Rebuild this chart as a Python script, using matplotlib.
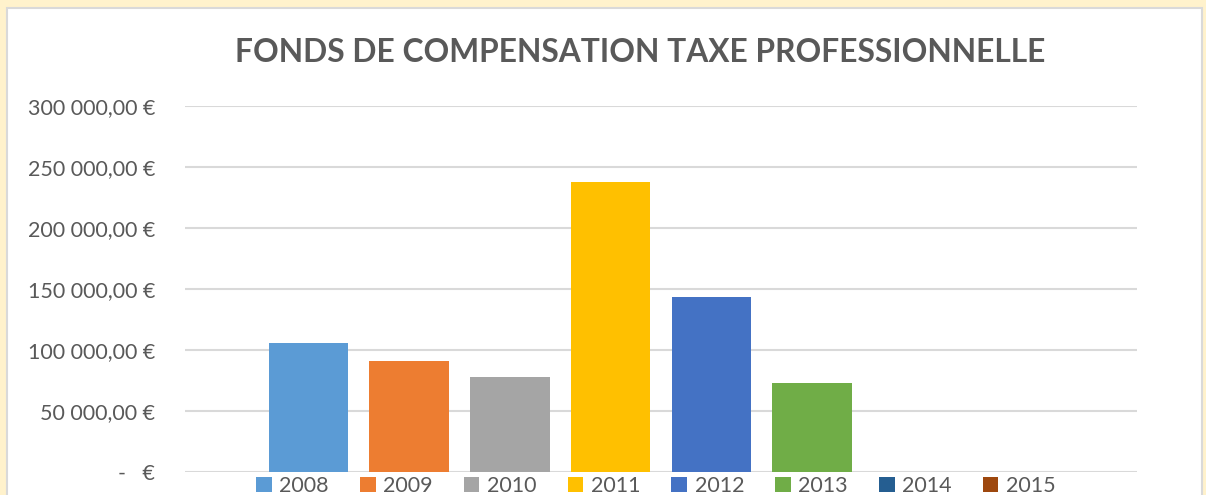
import matplotlib.pyplot as plt
from matplotlib.patches import Rectangle

years = ['2008', '2009', '2010', '2011', '2012', '2013', '2014', '2015']
montants = [105600, 90800, 77700, 238100, 143200, 72800, 0, 0]
couleurs = ['#5B9BD5', '#ED7D31', '#A5A5A5', '#FFC000',
            '#4472C4', '#70AD47', '#255E91', '#9E480E']
yticks = [0, 50000, 100000, 150000, 200000, 250000, 300000]
ytick_labels = ['-   €', '50 000,00 €', '100 000,00 €', '150 000,00 €',
                '200 000,00 €', '250 000,00 €', '300 000,00 €']

plt.rcParams['font.family'] = ['Lato', 'DejaVu Sans']
gris = '#595959'

W, H = 1206, 495
fig = plt.figure(figsize=(W / 100, H / 100), dpi=100)
fig.patch.set_facecolor('#FFF2CC')

# white chart area with thin border (behind the axes)
fig.patches.append(Rectangle((7 / W, -0.05), (1202 - 7) / W, 1.05 - 8 / H,
                             transform=fig.transFigure, facecolor='white',
                             edgecolor='#D9D9D9', linewidth=1.5, zorder=-10))

ax = fig.add_axes([185 / W, (H - 472) / H, (1137 - 185) / W, (472 - 106) / H])
ax.set_facecolor('none')

x = list(range(len(years)))
bars = ax.bar(x, montants, width=0.79, color=couleurs, zorder=3)

ax.set_xlim(-1.226, len(years) - 1 + 1.226)
ax.set_ylim(0, 300000)
ax.set_yticks(yticks)
ax.set_yticklabels(ytick_labels)
ax.set_xticks([])
ax.yaxis.grid(True, color='#D9D9D9', linewidth=1.5, zorder=0)
for s in ax.spines.values():
    s.set_visible(False)
ax.tick_params(axis='y', length=0, pad=21.5, labelsize=15.5, labelcolor=gris)

fig.text(640 / W, 1 - 53 / H, 'FONDS DE COMPENSATION TAXE PROFESSIONNELLE',
         ha='center', va='center', fontsize=22.9, fontweight='bold', color=gris)

leg = fig.legend(bars, years, loc='center', bbox_to_anchor=(656 / W, 9 / H),
                 ncol=8, frameon=False, fontsize=15.5, handlelength=0.72,
                 handleheight=0.72, handletextpad=0.35, columnspacing=1.45,
                 labelcolor=gris, borderpad=0.2)

fig.savefig('out.png', dpi=100, facecolor=fig.get_facecolor())
